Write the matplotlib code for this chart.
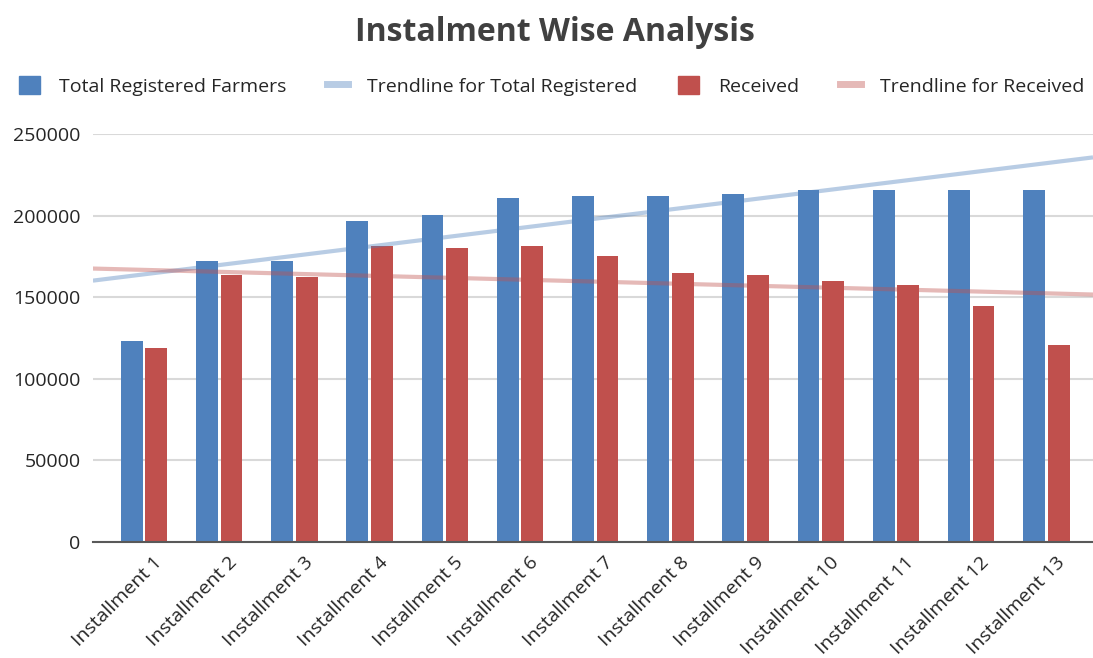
import numpy as np
from matplotlib import pyplot as plt
from matplotlib.patches import Patch
from matplotlib.lines import Line2D
from matplotlib.transforms import ScaledTranslation

plt.rcParams['font.family'] = ['Open Sans', 'DejaVu Sans']

installments = ['Installment %d' % i for i in range(1, 14)]
total_registered = [123000, 172000, 172000, 196700, 200400, 210800, 212000,
                    212000, 213200, 215700, 215700, 215700, 215700]
received = [118900, 163600, 162400, 181400, 180100, 181400, 175200,
            164800, 163600, 159900, 157500, 144600, 120700]

blue = '#4F81BD'
red = '#C0504D'

fig = plt.figure(figsize=(10.93, 6.58), dpi=100)
ax = fig.add_axes([0.085, 0.1763, 0.915, 0.6201])

x = np.arange(len(installments))
w = 0.29
ax.bar(x - 0.163, total_registered, w, color=blue, zorder=2)
ax.bar(x + 0.163, received, w, color=red, zorder=2)

# linear trendlines across the whole plot width
xl = (-0.68, 12.62)
xs = np.array(xl)
pb = np.polyfit(x, total_registered, 1)
pr = np.polyfit(x, received, 1)
ax.plot(xs, np.polyval(pb, xs), color=blue, alpha=0.4, lw=3, zorder=3,
        solid_capstyle='butt')
ax.plot(xs, np.polyval(pr, xs), color=red, alpha=0.4, lw=3, zorder=3,
        solid_capstyle='butt')

ax.set_xlim(*xl)
ax.set_ylim(0, 250000)
ax.set_yticks(range(0, 250001, 50000))
ax.set_yticklabels([str(v) for v in range(0, 250001, 50000)])
ax.grid(True, axis='y', color='#D9D9D9', lw=1.5, zorder=0)
ax.set_axisbelow(True)
for s in ['top', 'right', 'left']:
    ax.spines[s].set_visible(False)
ax.spines['bottom'].set_color('#595959')
ax.spines['bottom'].set_linewidth(1.5)
ax.spines['bottom'].set_zorder(4)

ax.set_xticks(x)
ax.set_xticklabels(installments, rotation=45, ha='right', rotation_mode='anchor')
ax.tick_params(axis='both', length=0, labelsize=14, colors='#262626')
ax.tick_params(axis='y', pad=9)
ax.tick_params(axis='x', pad=8)
shift = ScaledTranslation(0.09, 0, fig.dpi_scale_trans)
for lab in ax.get_xticklabels():
    lab.set_transform(lab.get_transform() + shift)

fig.suptitle('Instalment Wise Analysis', fontsize=23, fontweight='bold',
             color='#404040', x=0.508, y=0.975)

handles = [Patch(color=blue), Line2D([], [], color=blue, alpha=0.4, lw=5),
           Patch(color=red), Line2D([], [], color=red, alpha=0.4, lw=5)]
labels = ['Total Registered Farmers', 'Trendline for Total Registered',
          'Received', 'Trendline for Received']
fig.legend(handles, labels, loc='center', bbox_to_anchor=(0.505, 0.869), ncol=4,
           frameon=False, fontsize=14, handlelength=1.05, handleheight=1.05,
           columnspacing=2.1, handletextpad=1.0, labelcolor='#262626')

plt.savefig('out.png')
